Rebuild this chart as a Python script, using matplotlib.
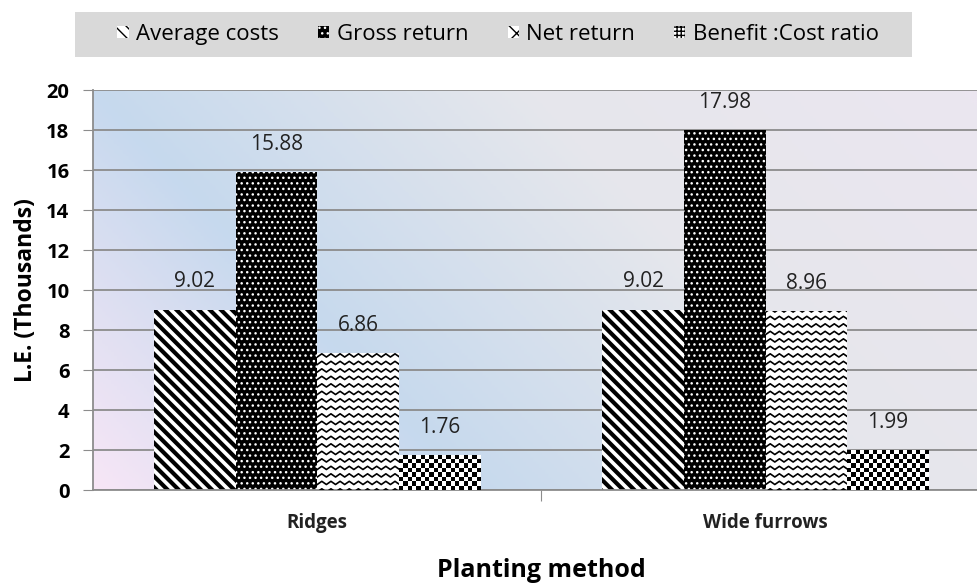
import numpy as np
import matplotlib
matplotlib.use("Agg")
import matplotlib.pyplot as plt
from matplotlib.colors import LinearSegmentedColormap
from matplotlib.patches import Patch, Rectangle

plt.rcParams['font.family'] = ['Open Sans', 'DejaVu Sans']

# data
methods = ['Ridges', 'Wide furrows']
series = ['Average costs', 'Gross return', 'Net return', 'Benefit :Cost ratio']
avg_costs = [9.02, 9.02]
gross_return = [15.88, 17.98]
net_return = [6.86, 8.96]
bc_ratio = [1.76, 1.99]
values = [avg_costs, gross_return, net_return, bc_ratio]

fig = plt.figure(figsize=(9.77, 5.83), dpi=100)
ax = fig.add_axes([0.0952, 0.1595, 0.918, 0.686])

# gradient background (pink -> blue -> grey)
cmap = LinearSegmentedColormap.from_list(
    'bg', [(0.0, '#f7e6f6'), (0.3, '#c6d9ee'), (0.65, '#e6e7ec'), (1.0, '#ebe6f0')])
gx, gy = np.meshgrid(np.linspace(0, 1, 300), np.linspace(0, 1, 200))
grad = 0.72 * gx + 0.3 * gy
ax.imshow(grad, cmap=cmap, extent=[0, 1, 0, 1], origin='lower',
          transform=ax.transAxes, aspect='auto', zorder=0, vmin=0, vmax=1)

x = np.arange(len(methods))
w = 0.182
offsets = np.array([-1.5, -0.5, 0.5, 1.5]) * w

ax.set_xlim(-0.5, 1.5)
ax.set_ylim(0, 20)
ax.set_yticks(np.arange(0, 21, 2))
ax.yaxis.grid(True, color='#8c8c8c', lw=1.3)
ax.set_axisbelow(True)

# average costs: diagonal stripes
with plt.rc_context({'hatch.linewidth': 3.0, 'hatch.color': 'black'}):
    b1 = ax.bar(x + offsets[0], avg_costs, w, color='white', edgecolor='black',
                hatch='\\\\\\', lw=0, zorder=2)
# gross return: black with white dots
with plt.rc_context({'hatch.linewidth': 1.0}):
    b2 = ax.bar(x + offsets[1], gross_return, w, color='black', edgecolor='white',
                hatch='...', lw=0, zorder=2)
# net return: white with zigzag lines
b3 = ax.bar(x + offsets[2], net_return, w, color='white', lw=0, zorder=2)
for r in b3:
    x0, x1 = r.get_x(), r.get_x() + r.get_width()
    xs = np.arange(x0, x1 + 0.02, 0.0102)
    zig = np.where(np.arange(len(xs)) % 2 == 0, 0.0, 0.16)
    for y0 in np.arange(-0.1, r.get_height() + 0.4, 0.375):
        ln, = ax.plot(xs, y0 + zig, color='black', lw=1.2, zorder=3)
        ln.set_clip_path(r)
# benefit cost ratio: checkerboard
b4 = ax.bar(x + offsets[3], bc_ratio, w, color='white', lw=0, zorder=2)
for r in b4:
    x0, x1 = r.get_x(), r.get_x() + r.get_width()
    nx, ny = int(round((x1 - x0) * 449 / 4.2)), int(round(r.get_height() * 20 / 4.2))
    chk = (np.add.outer(np.arange(ny), np.arange(nx)) % 2).astype(float)
    im = ax.imshow(chk, cmap='gray', extent=[x0, x1, 0, r.get_height()],
                   aspect='auto', interpolation='nearest', zorder=3, origin='lower')
    im.set_clip_path(r)

# value labels
for bars, vals in zip([b1, b2, b3, b4], values):
    for r, v in zip(bars, vals):
        ax.annotate(f'{v:.2f}', (r.get_x() + r.get_width() / 2, v),
                    xytext=(0, 20), textcoords='offset points',
                    ha='center', va='center', fontsize=15, color='#222222')

# axes styling
for s in ['top', 'right']:
    ax.spines[s].set_visible(False)
for s in ['left', 'bottom']:
    ax.spines[s].set_color('#8c8c8c')
    ax.spines[s].set_linewidth(1.3)
ax.tick_params(axis='y', length=7, color='#8c8c8c', labelsize=14.5, pad=10)
for t in ax.get_yticklabels():
    t.set_fontweight('bold')
ax.set_xticks([0.5])
ax.set_xticklabels([''])
ax.tick_params(axis='x', length=8, color='#8c8c8c')
for xi, m in zip(x, methods):
    ax.text(xi, -1.65, m, ha='center', va='center', fontsize=13.5,
            fontweight='bold', color='#222222')

ax.set_ylabel('L.E. (Thousands)', fontsize=16.5, fontweight='bold', labelpad=6)
fig.text(0.554, 0.022, 'Planting method', ha='center', va='center',
         fontsize=18, fontweight='bold')

# legend
fig.patches.append(Rectangle((75 / 977, 1 - 57 / 583), 837 / 977, 45 / 583,
                             transform=fig.transFigure, facecolor='#d9d9d9',
                             edgecolor='none', zorder=0))
handles = [
    Patch(facecolor='white', edgecolor='black', hatch='\\\\\\', lw=0),
    Patch(facecolor='black', edgecolor='white', hatch='...', lw=0),
    Patch(facecolor='white', edgecolor='black', hatch='xx', lw=0),
    Patch(facecolor='white', edgecolor='black', hatch='++++', lw=0),
]
leg = fig.legend(handles, series, loc='center', bbox_to_anchor=(0.51, 0.941),
                 ncol=4, fontsize=16, frameon=False,
                 handlelength=0.5, handleheight=0.5, handletextpad=0.35,
                 columnspacing=1.75)

fig.savefig('out.png', dpi=100)
